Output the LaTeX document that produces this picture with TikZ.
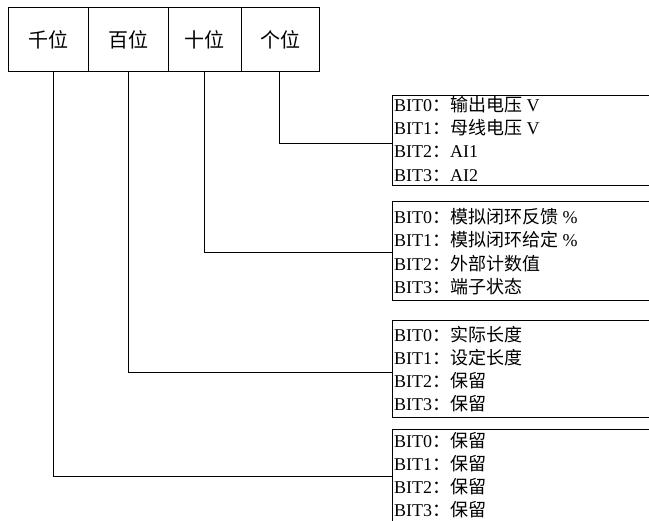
\documentclass[tikz,border=0pt]{standalone}
\usepackage{fontspec}
\setmainfont{Liberation Serif}
\newfontfamily\cjk{Noto Sans CJK SC}
\begin{document}
\begin{tikzpicture}[x=1pt,y=-1pt,
  ln/.style={line width=0.9pt, draw=black},
  cell/.style={ln, draw, anchor=north west, minimum height=64pt, inner sep=0pt,
     font=\fontsize{20}{22}\selectfont\cjk},
  bitbox/.style={ln, draw, anchor=north west, minimum width=300pt, inner sep=0pt},
  lbl/.style={anchor=base west, inner sep=0pt, font=\fontsize{18}{20}\selectfont}]
\useasboundingbox (0,0) rectangle (649,521);
\clip (0,0) rectangle (649,521);
% top cells
\node[cell, minimum width=80pt] (c1) at (8,7) {千位};
\node[cell, minimum width=80pt] (c2) at (88,7) {百位};
\node[cell, minimum width=73pt] (c3) at (168,7) {十位};
\node[cell, minimum width=78pt] (c4) at (241,7) {个位};
% right boxes
\node[bitbox, minimum height=90pt] (b1) at (392,95) {};
\node[bitbox, minimum height=99pt] (b2) at (392,201) {};
\node[bitbox, minimum height=97pt] (b3) at (392,320) {};
\node[bitbox, minimum height=120pt] (b4) at (392,429) {};
% stem points
\coordinate (s1) at (53,71);
\coordinate (s2) at (128,71);
\coordinate (s3) at (204,71);
\coordinate (s4) at (279,71);
\coordinate (e1) at (392,143);
\coordinate (e2) at (392,252);
\coordinate (e3) at (392,372);
\coordinate (e4) at (392,476);
\draw[ln] (s4) |- (e1);
\draw[ln] (s3) |- (e2);
\draw[ln] (s2) |- (e3);
\draw[ln] (s1) |- (e4);
% texts box 1
\node[lbl] (t11) at (394,112) {BIT0{\cjk ：输出电压} V};
\node[lbl] (t12) at (394,135) {BIT1{\cjk ：母线电压} V};
\node[lbl] (t13) at (394,158) {BIT2{\cjk ：}AI1};
\node[lbl] (t14) at (394,182) {BIT3{\cjk ：}AI2};
% box 2
\node[lbl] (t21) at (394,224) {BIT0{\cjk ：模拟闭环反馈} \%};
\node[lbl] (t22) at (394,247) {BIT1{\cjk ：模拟闭环给定} \%};
\node[lbl] (t23) at (394,271) {BIT2{\cjk ：外部计数值}};
\node[lbl] (t24) at (394,294) {BIT3{\cjk ：端子状态}};
% box 3
\node[lbl] (t31) at (394,342) {BIT0{\cjk ：实际长度}};
\node[lbl] (t32) at (394,365) {BIT1{\cjk ：设定长度}};
\node[lbl] (t33) at (394,388) {BIT2{\cjk ：保留}};
\node[lbl] (t34) at (394,411) {BIT3{\cjk ：保留}};
% box 4
\node[lbl] (t41) at (394,448) {BIT0{\cjk ：保留}};
\node[lbl] (t42) at (394,471) {BIT1{\cjk ：保留}};
\node[lbl] (t43) at (394,494) {BIT2{\cjk ：保留}};
\node[lbl] (t44) at (394,517) {BIT3{\cjk ：保留}};
\end{tikzpicture}
\end{document}
